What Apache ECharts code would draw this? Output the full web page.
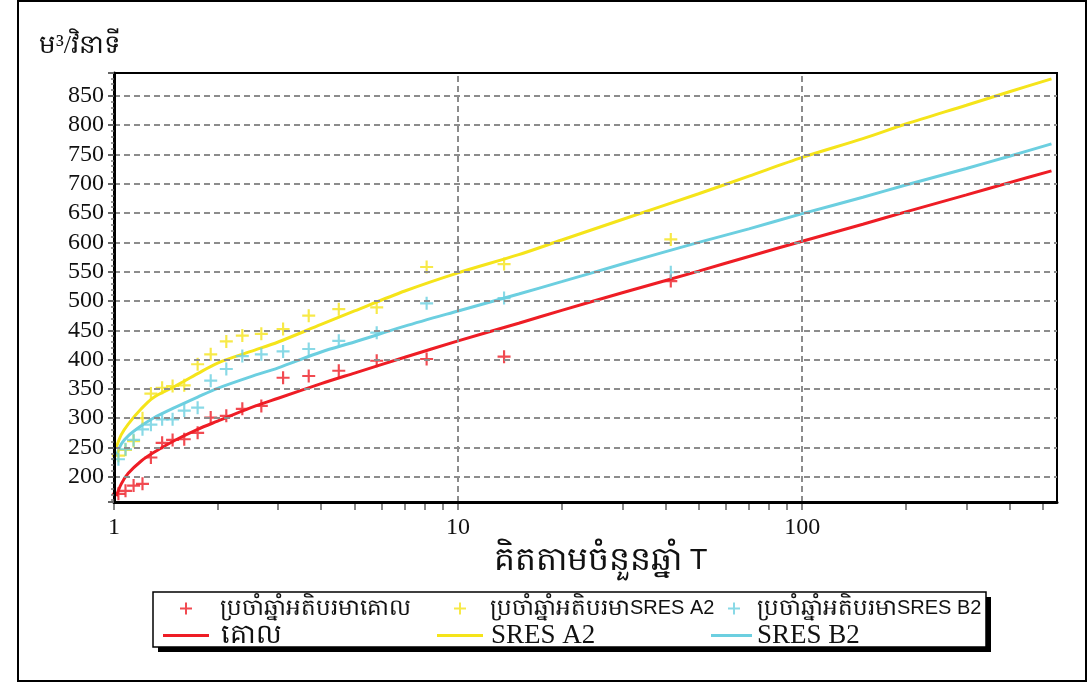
<!DOCTYPE html>
<html>
<head>
<meta charset="utf-8">
<script src="https://cdn.jsdelivr.net/npm/echarts@6/dist/echarts.min.js"></script>
<style>
  html, body { margin: 0; padding: 0; background: #fff; }
  #chart { width: 1089px; height: 683px; }
</style>
</head>
<body>
<div id="chart"></div>
<script>
// ---- data ----
const T_LINE = [1.015, 1.05, 1.1, 1.2, 1.3, 1.5, 1.75, 2, 2.5, 3, 4, 5, 7, 10, 15, 20, 30, 50, 70, 100, 150, 200, 300, 400, 530];
const BASE_LINE = [167, 188, 206, 227, 241, 262, 281, 295, 318, 334, 359, 377, 404, 432, 462, 484, 514, 551, 576, 602, 631, 652, 681, 702, 722];
const A2_LINE   = [250, 272, 290, 316, 335, 354, 376, 394, 414, 430, 460, 483, 517, 548, 579, 604, 639, 683, 713, 745, 777, 802, 834, 857, 879];
const B2_LINE   = [235, 256, 270, 287, 300, 318, 336, 351, 371, 386, 413, 430, 457, 483, 512, 533, 563, 600, 623, 649, 677, 698, 726, 747, 768];

const T_OBS    = [41.5, 13.6, 8.1, 5.8, 4.5, 3.68, 3.1, 2.68, 2.36, 2.12, 1.91, 1.75, 1.6, 1.48, 1.38, 1.28, 1.21, 1.14, 1.08, 1.03];
const BASE_OBS = [534, 405, 401, 398, 381, 372, 369, 321, 316, 304, 301, 275, 264, 263, 258, 233, 188, 185, 176, 171];
const A2_OBS   = [605, 563, 558, 489, 486, 475, 452, 444, 441, 431, 409, 392, 356, 355, 352, 342, 300, 261, 246, 236];
const B2_OBS   = [549, 505, 496, 446, 432, 418, 414, 409, 406, 384, 364, 318, 313, 298, 298, 289, 281, 263, 247, 230];

const X_MIN = 1, X_MAX = 550;
const X_TICKS = [1,2,3,4,5,6,7,8,9,10,20,30,40,50,60,70,80,90,100,200,300,400,500];
const X_GRID = [1, 10, 100];

const NAMES = {
  baseObs: 'ប្រចាំឆ្នាំអតិបរមាគោល',
  a2Obs: 'ប្រចាំឆ្នាំអតិបរមាSRES A2',
  b2Obs: 'ប្រចាំឆ្នាំអតិបរមាSRES B2',
  base: 'គោល',
  a2: 'SRES A2',
  b2: 'SRES B2'
};

const RED = '#ee1d25', YEL = '#f5e41a', CYA = '#6ccfe0';
const SERIF = "'Liberation Serif', 'Times New Roman', serif";
const SANS = "'Liberation Sans', Arial, sans-serif";
const PLUS = 'path://M5,0H7V5H12V7H7V12H5V7H0V5H5Z';

const zip = (xs, ys) => xs.map((x, i) => [x, ys[i]]);

const chart = echarts.init(document.getElementById('chart'), null, { renderer: 'canvas' });

function legendRow1(name, left, pad) {
  return {
    data: [name], left: left, top: 597, orient: 'horizontal',
    itemWidth: 12, itemHeight: 12, itemGap: 0, padding: 0,
    selectedMode: false,
    formatter: function (n) {
      const i = n.indexOf('SRES');
      if (i < 0) return '{k|' + n + '}';
      return '{k|' + n.slice(0, i) + '}{s|' + n.slice(i) + '}';
    },
    textStyle: {
      color: '#111', padding: [0, 0, 0, pad],
      rich: {
        k: { fontFamily: SERIF, fontSize: 23, color: '#111' },
        s: { fontFamily: SANS, fontSize: 20, color: '#111' }
      }
    }
  };
}
function legendRow2(name, left, width, pad) {
  return {
    data: [name], left: left, top: 622, orient: 'horizontal',
    itemWidth: width, itemHeight: 3, itemGap: 0, padding: 0,
    icon: 'rect', selectedMode: false,
    textStyle: { color: '#111', fontFamily: SERIF, fontSize: 27, padding: [0, 0, 0, pad] }
  };
}

const gridDash = { color: '#8c8c8c', width: 2, type: [6, 4] };

const option = {
  backgroundColor: '#fff',
  animation: false,
  title: {
    text: 'ម³/វិនាទី', left: 34, top: 28,
    textStyle: { fontFamily: SERIF, fontSize: 26, fontWeight: 'normal', color: '#111' }
  },
  graphic: [
    { type: 'rect', shape: { x: 18, y: 1, width: 1068, height: 680 }, style: { fill: 'none', stroke: '#000', lineWidth: 2 }, z: 0 },
    { type: 'rect', shape: { x: 158, y: 597, width: 833, height: 55 }, style: { fill: '#000' }, z: 0 },
    { type: 'rect', shape: { x: 153, y: 592, width: 833, height: 55 }, style: { fill: '#fff', stroke: '#000', lineWidth: 1.5 }, z: 0 }
  ],
  grid: {
    left: 114, right: 32, top: 73, bottom: 181,
    show: true, borderColor: '#000', borderWidth: 2, backgroundColor: 'transparent'
  },
  xAxis: [
    {
      type: 'log', logBase: 10, min: X_MIN, max: X_MAX, position: 'bottom',
      name: 'គិតតាមចំនួនឆ្នាំ {t|T}', nameLocation: 'middle', nameGap: 36,
      nameTextStyle: {
        fontFamily: SERIF, fontSize: 33, color: '#111', padding: [0, 0, 0, 30],
        rich: { t: { fontFamily: SANS, fontSize: 29, color: '#111' } }
      },
      axisLine: { show: true, lineStyle: { color: '#000', width: 3 } },
      axisTick: { show: false },
      axisLabel: {
        show: true, margin: 14, showMaxLabel: false,
        fontFamily: SERIF, fontSize: 24, color: '#111'
      },
      splitLine: { show: false },
      minorTick: { show: false },
      minorSplitLine: { show: false },
      z: 5
    },
    {
      // tick marks at 1..9 of every decade, placed on the log10 scale of the main axis
      type: 'value', min: Math.log10(X_MIN), max: Math.log10(X_MAX), position: 'bottom',
      axisLine: { show: false },
      axisTick: { show: true, length: 8, customValues: X_TICKS.map(Math.log10), lineStyle: { color: '#888', width: 2 } },
      axisLabel: { show: false },
      splitLine: { show: false }
    }
  ],
  yAxis: {
    type: 'value', min: 157, max: 889, splitNumber: 14,
    axisLine: { show: true, lineStyle: { color: '#000', width: 3 } },
    axisTick: { show: true, length: 6, lineStyle: { color: '#666', width: 2 } },
    minorTick: { show: true, splitNumber: 5, length: 3, lineStyle: { color: '#777', width: 1.5 } },
    axisLabel: {
      showMinLabel: false, showMaxLabel: false, margin: 10,
      fontFamily: SERIF, fontSize: 24, color: '#111'
    },
    splitLine: { show: true, showMinLine: false, showMaxLine: false, lineStyle: gridDash },
    z: 5
  },
  legend: [
    legendRow1(NAMES.baseObs, 180, 23),
    legendRow1(NAMES.a2Obs, 454, 19),
    legendRow1(NAMES.b2Obs, 728, 12),
    legendRow2(NAMES.base, 163, 46, 7),
    legendRow2(NAMES.a2, 437, 46, 3),
    legendRow2(NAMES.b2, 711, 41, 0)
  ],
  series: [
    {
      name: NAMES.base, type: 'line', data: zip(T_LINE, BASE_LINE),
      showSymbol: false, symbol: 'none', smooth: 0.3, z: 3,
      lineStyle: { color: RED, width: 3 }, itemStyle: { color: RED },
      markLine: {
        silent: true, symbol: 'none', label: { show: false },
        lineStyle: gridDash, emphasis: { disabled: true },
        data: X_GRID.map(v => ({ xAxis: v }))
      }
    },
    {
      name: NAMES.a2, type: 'line', data: zip(T_LINE, A2_LINE),
      showSymbol: false, symbol: 'none', smooth: 0.3, z: 3,
      lineStyle: { color: YEL, width: 3 }, itemStyle: { color: YEL }
    },
    {
      name: NAMES.b2, type: 'line', data: zip(T_LINE, B2_LINE),
      showSymbol: false, symbol: 'none', smooth: 0.3, z: 3,
      lineStyle: { color: CYA, width: 3 }, itemStyle: { color: CYA }
    },
    {
      name: NAMES.baseObs, type: 'scatter', data: zip(T_OBS, BASE_OBS),
      symbol: PLUS, symbolSize: 13, symbolKeepAspect: true, z: 4,
      itemStyle: { color: RED }
    },
    {
      name: NAMES.a2Obs, type: 'scatter', data: zip(T_OBS, A2_OBS),
      symbol: PLUS, symbolSize: 13, symbolKeepAspect: true, z: 4,
      itemStyle: { color: YEL }
    },
    {
      name: NAMES.b2Obs, type: 'scatter', data: zip(T_OBS, B2_OBS),
      symbol: PLUS, symbolSize: 13, symbolKeepAspect: true, z: 4,
      itemStyle: { color: CYA }
    }
  ]
};
chart.setOption(option);
</script>
</body>
</html>
